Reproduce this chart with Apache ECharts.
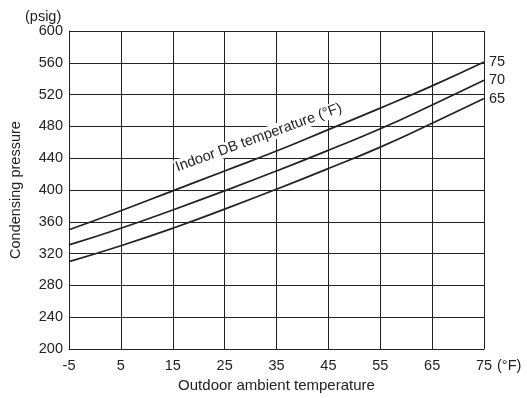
<!DOCTYPE html>
<html>
<head>
<meta charset="utf-8">
<script src="https://cdn.jsdelivr.net/npm/echarts@6/dist/echarts.min.js"></script>
<style>
html,body{margin:0;padding:0;background:#fff;}
#c{width:527px;height:398px;}
</style>
</head>
<body>
<div id="c"></div>
<script>
const outdoorTemps = [-5, 5, 15, 25, 35, 45, 55, 65, 75];
const indoor75 = [350, 374, 399, 424, 449, 476, 503, 531, 561];
const indoor70 = [331, 352, 375, 399, 424, 450, 477, 507, 538];
const indoor65 = [310, 330, 352, 376, 401, 427, 454, 484, 515];
const seriesNames = ['75', '70', '65'];
const yTicks = [200, 600, 40];
const xTicks = [-5, 75, 10];

const FONT = 'Liberation Sans, Arial, sans-serif';
const INK = '#222';
const FS = 14.5;

function pairs(vals){ return outdoorTemps.map((t,i)=>[t, vals[i]]); }

const chart = echarts.init(document.getElementById('c'), null, {renderer:'canvas'});
const mkSeries = (name, vals) => ({
  name, type:'line', data: pairs(vals), symbol:'none', smooth:0.5,
  lineStyle:{color:INK, width:1.7}, silent:true,
  endLabel:{show:true, formatter:'{a}', color:INK, fontSize:FS, fontFamily:FONT, distance:5}
});

chart.setOption({
  animation:false,
  backgroundColor:'#fff',
  grid:{left:66, right:43, top:31, bottom:46},
  xAxis:{
    type:'value', min:xTicks[0], max:xTicks[1], interval:xTicks[2],
    name:'Outdoor ambient temperature', nameLocation:'middle', nameGap:28,
    nameTextStyle:{color:INK, fontSize:15, fontFamily:FONT},
    axisLine:{onZero:false, lineStyle:{color:INK, width:1}},
    axisTick:{show:false},
    axisLabel:{color:INK, fontSize:FS, fontFamily:FONT, margin:9},
    splitLine:{show:true, lineStyle:{color:INK, width:1}}
  },
  yAxis:{
    type:'value', min:yTicks[0], max:yTicks[1], interval:yTicks[2],
    name:'Condensing pressure', nameLocation:'middle', nameGap:46, nameRotate:90,
    nameTextStyle:{color:INK, fontSize:FS, fontFamily:FONT},
    axisLine:{show:true, onZero:false, lineStyle:{color:INK, width:1}},
    axisTick:{show:false},
    axisLabel:{color:INK, fontSize:FS, fontFamily:FONT, margin:6},
    splitLine:{show:true, lineStyle:{color:INK, width:1}}
  },
  series:[mkSeries(seriesNames[0], indoor75), mkSeries(seriesNames[1], indoor70), mkSeries(seriesNames[2], indoor65)]
});

const p = chart.convertToPixel({gridIndex:0}, [31.6, 466]);
const pEnd = chart.convertToPixel({gridIndex:0}, [75, 200]);
chart.setOption({
  graphic:[
    {type:'text', x:p[0], y:p[1], rotation:20*Math.PI/180, z:10,
     style:{text:'Indoor DB temperature (°F)', fill:INK, font:'14.5px '+FONT,
            align:'center', verticalAlign:'middle', backgroundColor:'#fff', padding:[0,1]}},
    {type:'text', x:25, y:9, style:{text:'(psig)', fill:INK, font:FS+'px '+FONT}},
    {type:'text', x:pEnd[0]+13, y:pEnd[1]+9, style:{text:'(°F)', fill:INK, font:FS+'px '+FONT}}
  ]
});
</script>
</body>
</html>
